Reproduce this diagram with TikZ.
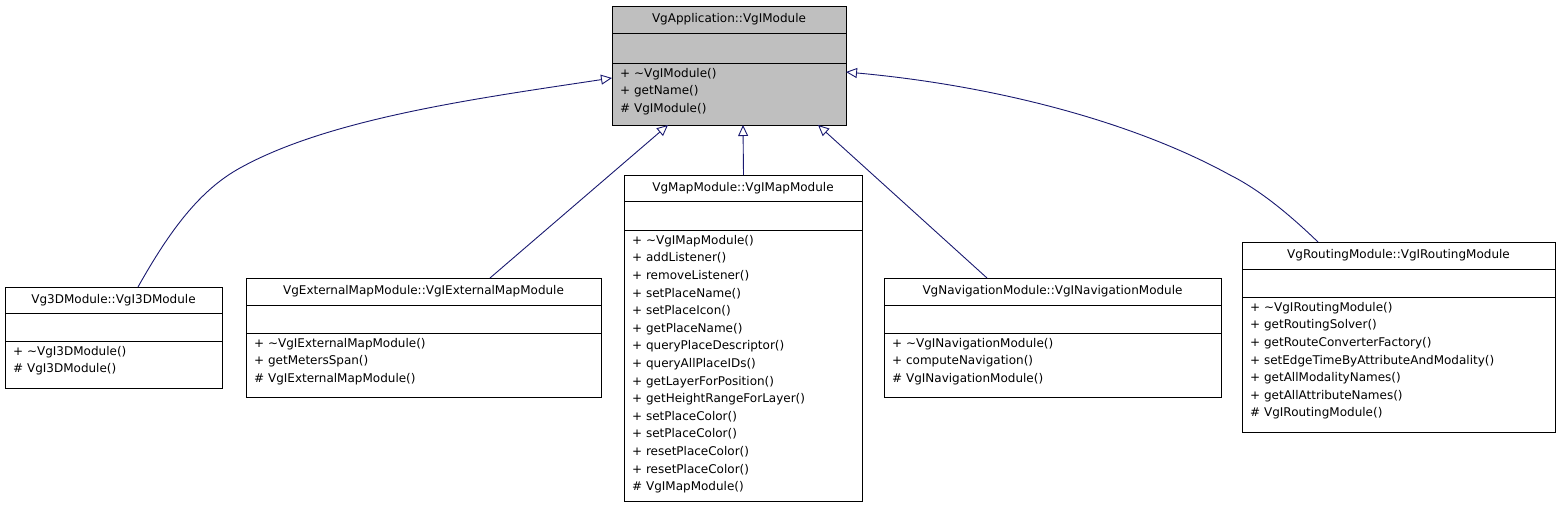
\documentclass[tikz,border=0pt]{standalone}
\usepackage{fontspec}
\setmainfont{DejaVu Sans}
\usetikzlibrary{arrows.meta}
\definecolor{edge}{HTML}{191970}
\begin{document}
\begin{tikzpicture}[x=1pt,y=-1pt,
  box/.style={draw=black,line width=1pt,anchor=north west,inner sep=0pt},
  ttl/.style={anchor=center,inner sep=0pt,font=\fontsize{12}{14}\selectfont},
  mth/.style={anchor=north west,inner sep=0pt,align=left,font=\fontsize{12}{17.6}\selectfont},
  inh/.style={draw=edge,line width=0.9pt,-{Triangle[open,length=11pt,width=10pt,fill=white]}}]
\useasboundingbox (0,0) rectangle (1560,507);
% generic class box macro
\newcommand\classbox[9]{%
 % #1 name, #2 x, #3 y, #4 w, #5 y1(sep1), #6 y2 (sep2), #7 y3 (bottom), #8 title, #9 methods
 \node[box,minimum width=#4pt,minimum height={(#7-#3)*1pt},fill=#1fill] (#1) at (#2,#3) {};
 \draw[line width=1pt] (#2,#5) -- ++(#4,0) (#2,#6) -- ++(#4,0);
 \node[ttl] (#1t) at ({#2+#4/2},{(#3+#5)/2}) {#8};
 \node[mth] (#1m) at ({#2+8},{#6+5}) {#9};
}
\colorlet{topfill}{black!25}
\colorlet{c3dfill}{white}\colorlet{extfill}{white}\colorlet{mapfill}{white}\colorlet{navfill}{white}\colorlet{rtfill}{white}
\classbox{top}{612}{6}{234}{33}{63}{125}{VgApplication::VgIModule}{+ \textasciitilde VgIModule()\\+ getName()\\\# VgIModule()}
\classbox{c3d}{5}{287}{217}{313}{341}{388}{Vg3DModule::VgI3DModule}{+ \textasciitilde VgI3DModule()\\\# VgI3DModule()}
\classbox{ext}{246}{278}{355}{305}{333}{397}{VgExternalMapModule::VgIExternalMapModule}{+ \textasciitilde VgIExternalMapModule()\\+ getMetersSpan()\\\# VgIExternalMapModule()}
\classbox{map}{624}{175}{238}{201}{230}{501}{VgMapModule::VgIMapModule}{+ \textasciitilde VgIMapModule()\\+ addListener()\\+ removeListener()\\+ setPlaceName()\\+ setPlaceIcon()\\+ getPlaceName()\\+ queryPlaceDescriptor()\\+ queryAllPlaceIDs()\\+ getLayerForPosition()\\+ getHeightRangeForLayer()\\+ setPlaceColor()\\+ setPlaceColor()\\+ resetPlaceColor()\\+ resetPlaceColor()\\\# VgIMapModule()}
\classbox{nav}{884}{278}{337}{305}{333}{397}{VgNavigationModule::VgINavigationModule}{+ \textasciitilde VgINavigationModule()\\+ computeNavigation()\\\# VgINavigationModule()}
\classbox{rt}{1242}{242}{313}{269}{297}{432}{VgRoutingModule::VgIRoutingModule}{+ \textasciitilde VgIRoutingModule()\\+ getRoutingSolver()\\+ getRouteConverterFactory()\\+ setEdgeTimeByAttributeAndModality()\\+ getAllModalityNames()\\+ getAllAttributeNames()\\\# VgIRoutingModule()}
\coordinate (tl) at (612,78);
\coordinate (tr) at (846,72);
\coordinate (te) at (668,125);
\coordinate (tm) at (743,125);
\coordinate (tn) at (818,125);
\draw[inh] (c3d.north -| 138,0) .. controls (170,230) and (200,190) .. (240,168) .. controls (330,118) and (480,98) .. (tl);
\draw[inh] (ext.north -| 490,0) -- (te);
\draw[inh] (map.north) -- (tm);
\draw[inh] (nav.north -| 987,0) -- (tn);
\draw[inh] (rt.north -| 1318,0) .. controls (1290,215) and (1260,190) .. (1230,175) .. controls (1130,120) and (990,85) .. (tr);
\end{tikzpicture}
\end{document}
